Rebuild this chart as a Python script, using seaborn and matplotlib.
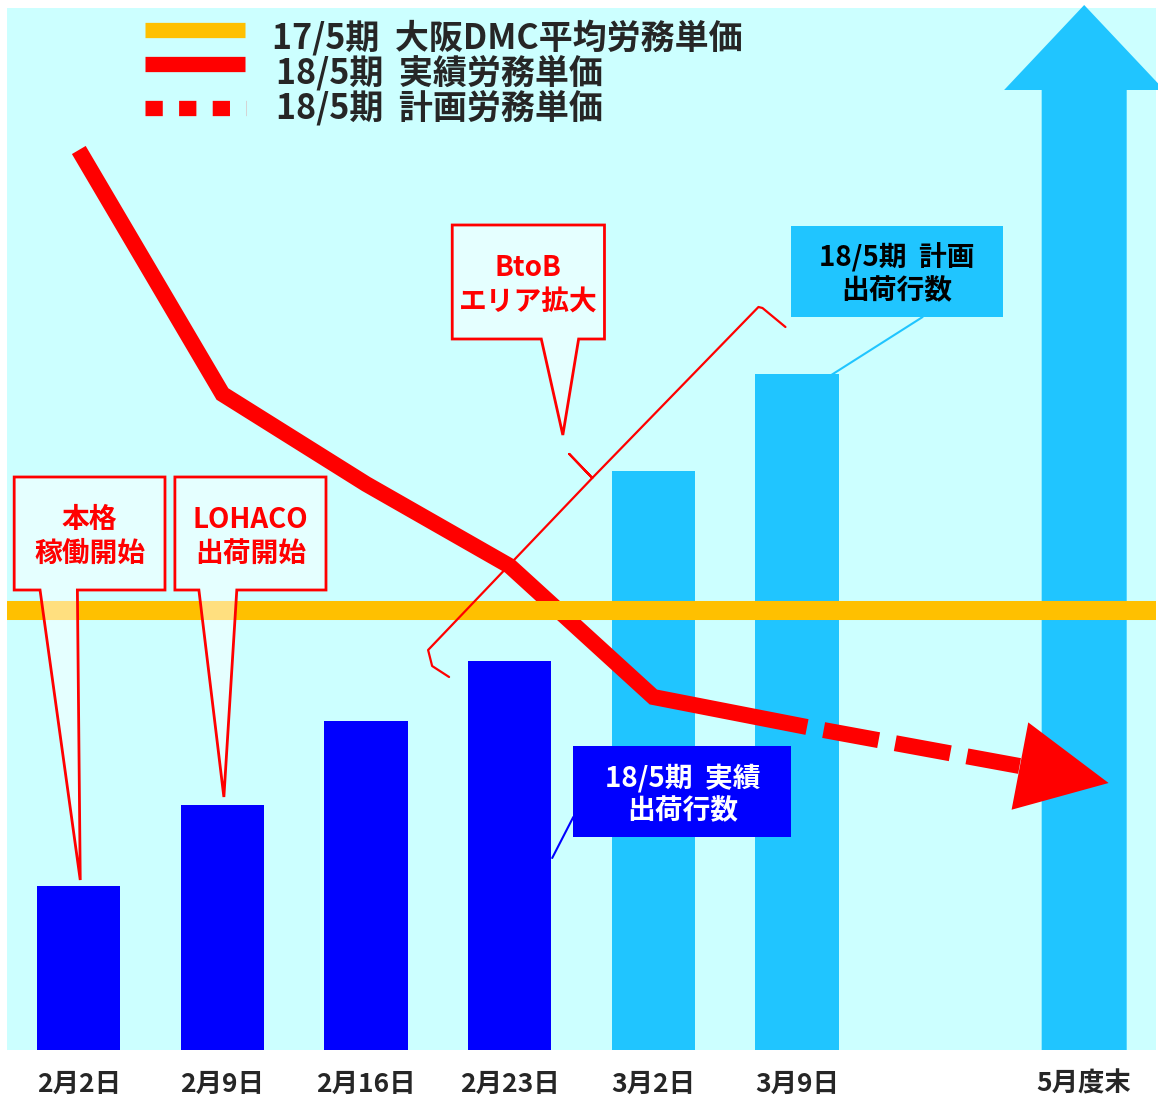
import matplotlib
matplotlib.use('Agg')
import matplotlib.pyplot as plt
from matplotlib.lines import Line2D
from matplotlib.patches import Polygon, Rectangle
import pandas as pd
import seaborn as sns

# data (arbitrary units)
date_labels = ['2月2日', '2月9日', '2月16日', '2月23日', '3月2日', '3月9日', '5月度末']
date_pos = [0, 1, 2, 3, 4, 5, 7]

actual_pos = [0, 1, 2, 3]
actual_rows = [16.4, 24.5, 32.9, 38.9]      # 18/5期 実績出荷行数
plan_pos = [4, 5]
plan_rows = [57.9, 67.6]                     # 18/5期 計画出荷行数
target_pos = 7
target_rows = 104.5                          # 5月度末 (arrow)

price_actual_x = [0, 1, 2, 3, 4, 5.07]
price_actual = [90.0, 65.6, 56.6, 48.4, 35.3, 32.3]   # 18/5期 実績労務単価
price_plan_x = [5.07, 6.55]
price_plan = [32.3, 28.4]                             # 18/5期 計画労務単価
price_target = (7.17, 26.7)
dmc_avg_price = 44.0                                  # 17/5期 大阪DMC平均労務単価

BG = '#ccffff'
BLUE = '#0000ff'
LBLUE = '#20c5ff'
ORANGE = '#ffc000'
RED = '#ff0000'

sns.set_style('white')
plt.rcParams['font.family'] = ['Noto Sans CJK JP', 'DejaVu Sans']

W, H = 1158, 1099
fig = plt.figure(figsize=(W / 100, H / 100), dpi=100)
ax = fig.add_axes([7 / W, 49 / H, 1149 / W, 1042 / H])
ax.set_facecolor(BG)

def fx(px):
    return px / W

def fy(py):
    return 1 - py / H

# bars
bars = pd.DataFrame({
    'pos': actual_pos + plan_pos,
    'rows': actual_rows + plan_rows,
    'kind': ['実績'] * len(actual_pos) + ['計画'] * len(plan_pos),
})
sns.barplot(data=bars, x='pos', y='rows', hue='kind', native_scale=True,
            palette={'実績': BLUE, '計画': LBLUE}, dodge=False, width=0.58,
            saturation=1, errorbar=None, legend=False, ax=ax, zorder=2,
            linewidth=0, edgecolor='none')

# 5月度末 target arrow
ax.arrow(target_pos, 0, 0, target_rows, width=0.592, head_width=1.115,
         head_length=8.5, length_includes_head=True, color=LBLUE, lw=0,
         zorder=2, clip_on=False)

# labour unit price lines
sns.lineplot(x=price_actual_x, y=price_actual, color=RED, lw=11.5, ax=ax,
             zorder=3, solid_capstyle='butt', solid_joinstyle='miter')
ax.plot(price_plan_x, price_plan, color=RED, lw=11.5, zorder=3,
        linestyle=(3.5, (3.5, 1.06)), dash_capstyle='butt')
ax.annotate('', xy=price_target, xytext=(price_plan_x[-1], price_plan[-1]),
            arrowprops=dict(arrowstyle='-|>,head_length=0.65,head_width=0.32',
                            mutation_scale=100, color=RED, lw=0,
                            shrinkA=0, shrinkB=0), zorder=3)

ax.axhline(dmc_avg_price, color=ORANGE, lw=13.7, zorder=4)

# callouts
def callout(x0, x1, y0, y1, t0, t1, tip, text):
    verts = [(x0, y1), (x1, y1), (x1, y0), (t1, y0), tip, (t0, y0), (x0, y0)]
    ax.add_patch(Polygon(verts, closed=True, facecolor=(1, 1, 1, 0.5),
                         edgecolor=RED, lw=2, joinstyle='miter', zorder=5))
    ax.text((x0 + x1) / 2, (y0 + y1) / 2 - 0.3, text, ha='center', va='center',
            color=RED, fontsize=20, weight='bold', linespacing=1.27, zorder=6)

callout(-0.45, 0.60, 46.0, 57.3, -0.27, -0.01, (0.01, 17.0), '本格\n稼働開始')
callout(0.669, 1.721, 46.0, 57.3, 0.836, 1.10, (1.01, 25.3), 'LOHACO\n出荷開始')
callout(2.60, 3.66, 71.1, 82.5, 3.22, 3.48, (3.37, 61.5), 'BtoB\nエリア拡大')

# brace over the BtoB period
brace_x = [2.578, 2.46, 2.432, 3.575, 3.415, 3.575, 4.732, 4.76, 4.92]
brace_y = [37.3, 38.4, 40.0, 57.2, 59.6, 57.2, 74.3, 74.2, 72.3]
ax.plot(brace_x, brace_y, color=RED, lw=1.6, zorder=5)

# series labels
ax.plot([3.296, 3.443], [19.2, 23.3], color=BLUE, lw=1.5, zorder=5)
ax.add_patch(Rectangle((3.443, 21.3), 1.519, 9.1, color=BLUE, lw=0, zorder=5))
ax.text(4.202, 25.55, '18/5期  実績\n出荷行数', ha='center', va='center',
        color='white', fontsize=20, weight='bold', linespacing=1.22, zorder=6)

ax.plot([5.02, 5.875], [65.5, 73.3], color=LBLUE, lw=1.5, zorder=5)
ax.add_patch(Rectangle((4.962, 73.3), 1.47, 9.1, color=LBLUE, lw=0, zorder=5))
ax.text(5.697, 77.55, '18/5期  計画\n出荷行数', ha='center', va='center',
        color='black', fontsize=20, weight='bold', linespacing=1.22, zorder=6)

# legend
fig.add_artist(Line2D([fx(145), fx(245)], [fy(30)] * 2, color=ORANGE, lw=11,
                      solid_capstyle='butt'))
fig.add_artist(Line2D([fx(145), fx(245)], [fy(64)] * 2, color=RED, lw=11,
                      solid_capstyle='butt'))
fig.add_artist(Line2D([fx(145), fx(246)], [fy(108)] * 2, color=RED, lw=11,
                      linestyle=(0, (1.13, 1.07)), dash_capstyle='butt'))
fig.text(fx(272), fy(38), '17/5期  大阪DMC平均労務単価', ha='left', va='center',
         fontsize=24.5, weight='bold')
fig.text(fx(276), fy(73), '18/5期  実績労務単価', ha='left', va='center',
         fontsize=24.5, weight='bold')
fig.text(fx(276), fy(108), '18/5期  計画労務単価', ha='left', va='center',
         fontsize=24.5, weight='bold')

# axes
ax.set_xlim(-0.5, 7.5)
ax.set_ylim(0, 104.2)
ax.set_xticks(date_pos, date_labels, fontsize=19, weight='bold')
ax.set_yticks([])
ax.set_xlabel('')
ax.set_ylabel('')
ax.tick_params(axis='x', length=0, pad=15)
for s in ax.spines.values():
    s.set_visible(False)

fig.savefig('out.png', dpi=100, facecolor='white')
